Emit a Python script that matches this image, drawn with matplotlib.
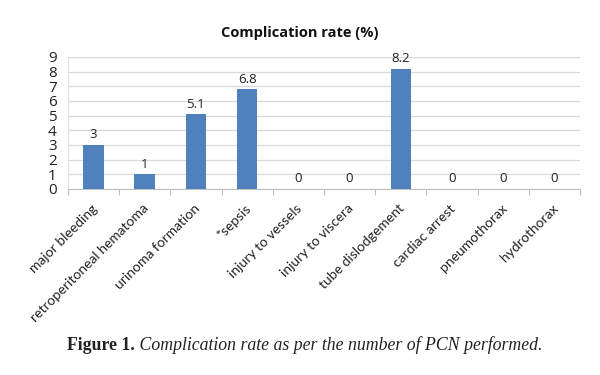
import matplotlib
matplotlib.use("Agg")
from matplotlib import pyplot as plt
import numpy as np

# Chart data
categories = ["major bleeding", "retroperitoneal hematoma", "urinoma formation",
              "*sepsis", "injury to vessels", "injury to viscera",
              "tube dislodgement", "cardiac arrest", "pneumothorax", "hydrothorax"]
rates = [3, 1, 5.1, 6.8, 0, 0, 8.2, 0, 0, 0]
labels = ["3", "1", "5.1", "6.8", "0", "0", "8.2", "0", "0", "0"]
yticks = [0, 1, 2, 3, 4, 5, 6, 7, 8, 9]

plt.rcParams['font.family'] = ['Open Sans', 'DejaVu Sans']

fig = plt.figure(figsize=(6, 3.75), dpi=100)
ax = fig.add_axes([0.113, 0.496, 0.854, 0.352])

x = np.arange(len(categories))
ax.bar(x, rates, width=0.4, color='#4f81bd', zorder=3)

# value labels above bars
for xi, v, lab in zip(x, rates, labels):
    ax.text(xi, v + 0.25, lab, ha='center', va='bottom', fontsize=9.5, color='#222222')

ax.set_xlim(-0.5, len(categories) - 0.5)
ax.set_ylim(0, 9)
ax.set_yticks(yticks)
ax.tick_params(axis='y', length=0, labelsize=11, pad=8, colors='#222222')
ax.yaxis.grid(True, color='#d9d9d9', linewidth=0.9, zorder=0)

# ticks at category boundaries
ax.set_xticks(np.arange(len(categories) + 1) - 0.5, minor=False)
ax.set_xticklabels([])
ax.tick_params(axis='x', length=4, color='#bfbfbf', width=0.8)
for xi, name in zip(x, categories):
    ax.text(xi - 0.05, -0.9, name, rotation=45, ha='right', va='top',
            rotation_mode='anchor', fontsize=10, family=['Lato', 'DejaVu Sans'],
            color='#222222')

for s in ['top', 'right']:
    ax.spines[s].set_visible(False)
ax.spines['left'].set_color('#e0e0e0')
ax.spines['bottom'].set_color('#bfbfbf')

fig.text(0.5, 0.912, "Complication rate (%)", ha='center', va='center',
         fontsize=10.5, fontweight='bold', color='#111111')

# caption
t1 = fig.text(0.112, 0.067, "Figure 1.", fontsize=12.8, fontweight='bold',
              family='Liberation Serif', color='#222222', va='baseline')
ax.annotate(" Complication rate as per the number of PCN performed.",
            xy=(1, 0), xycoords=t1, va='bottom', fontsize=12.8, style='italic',
            family='Liberation Serif', color='#222222', annotation_clip=False)

fig.savefig("out.png", dpi=100)
